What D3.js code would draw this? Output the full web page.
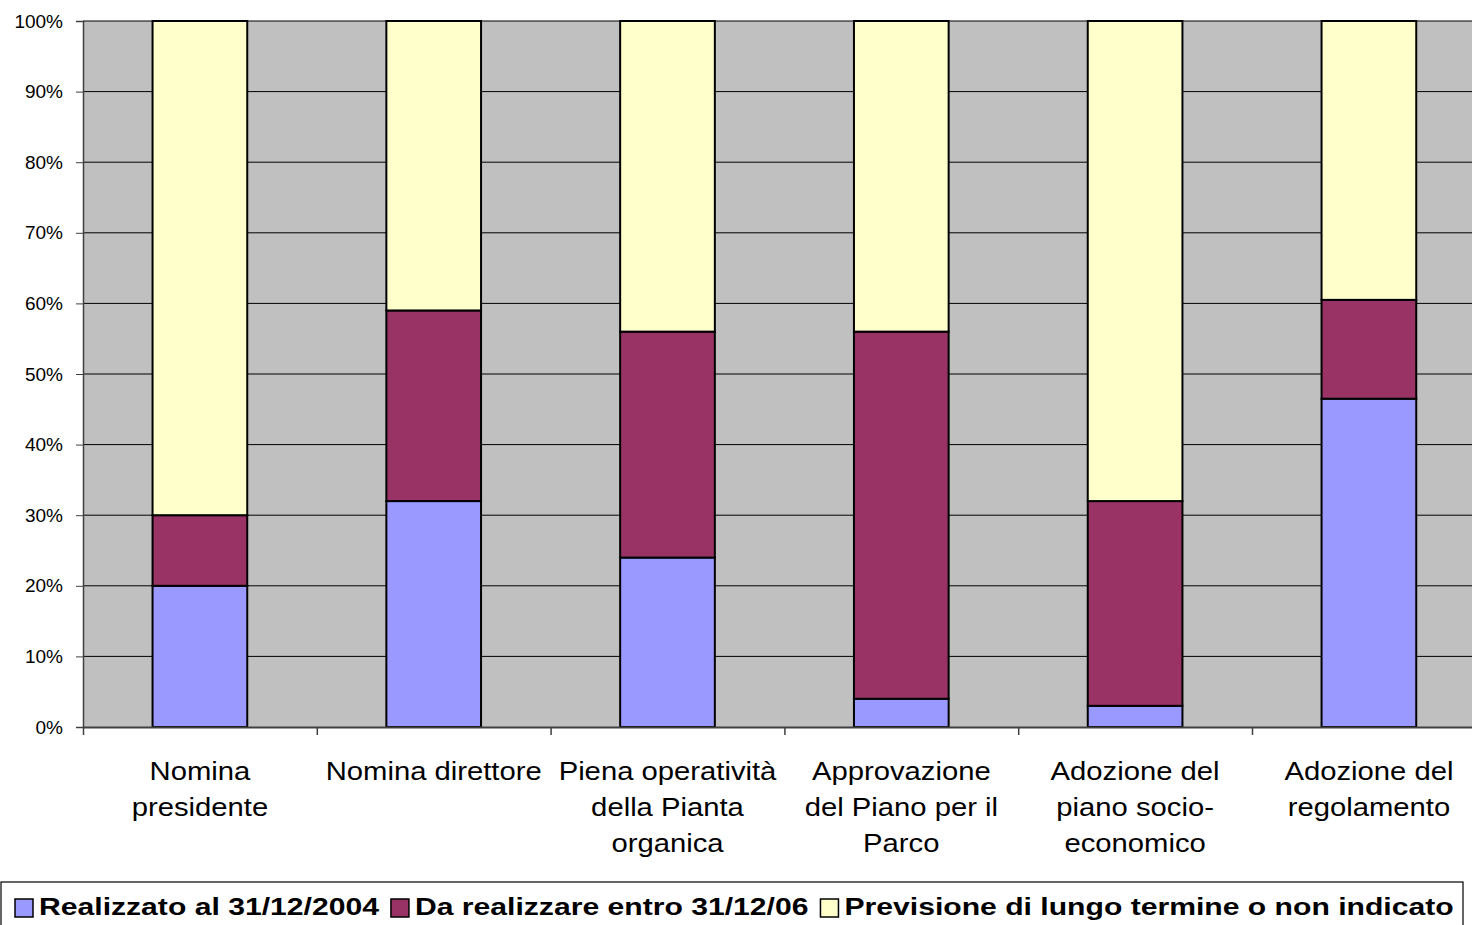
<!DOCTYPE html>
<html>
<head>
<meta charset="utf-8">
<script src="https://cdn.jsdelivr.net/npm/d3@7"></script>
<style>
  body { margin: 0; background: #fff; }
  svg { display: block; font-family: "Liberation Sans", Arial, sans-serif; }
</style>
</head>
<body>
<script>
const categories = ["Nomina presidente", "Nomina direttore", "Piena operatività della Pianta organica",
  "Approvazione del Piano per il Parco", "Adozione del piano socio-economico", "Adozione del regolamento"];
const categoryLines = [
  ["Nomina", "presidente"],
  ["Nomina direttore"],
  ["Piena operatività", "della Pianta", "organica"],
  ["Approvazione", "del Piano per il", "Parco"],
  ["Adozione del", "piano socio-", "economico"],
  ["Adozione del", "regolamento"]
];
const seriesNames = ["Realizzato al 31/12/2004", "Da realizzare entro 31/12/06", "Previsione di lungo termine o non indicato"];
const realizzato = [20, 32, 24, 4, 3, 46.5];
const daRealizzare = [10, 27, 32, 52, 29, 14];
const previsione = [70, 41, 44, 44, 68, 39.5];
const yTicks = [0, 10, 20, 30, 40, 50, 60, 70, 80, 90, 100];

const colors = ["#9999FF", "#993366", "#FFFFCC"];

const w = 1472, h = 925;
const plotLeft = 83, plotTop = 21, plotBottom = 727;
const step = 233.8;
const plotRight = plotLeft + step * categories.length;

const svg = d3.select("body").append("svg").attr("width", w).attr("height", h);

const x = d3.scaleBand().domain(categories).range([plotLeft, plotRight]).padding(0);
const xLin = d3.scaleLinear().domain([0, categories.length]).range([plotLeft, plotRight]);
const y = d3.scaleLinear().domain([0, 100]).range([plotBottom, plotTop]);

// plot background
svg.append("rect")
  .attr("x", plotLeft).attr("y", plotTop)
  .attr("width", plotRight - plotLeft).attr("height", plotBottom - plotTop)
  .attr("fill", "#C0C0C0");

// gridlines
svg.append("g").selectAll("line")
  .data(yTicks.slice(1))
  .enter().append("line")
  .attr("x1", plotLeft).attr("x2", plotRight)
  .attr("y1", d => y(d)).attr("y2", d => y(d))
  .attr("stroke", "#000").attr("stroke-width", 1);

// stacked bars
const table = categories.map((c, i) => ({ cat: c, s0: realizzato[i], s1: daRealizzare[i], s2: previsione[i] }));
const stacked = d3.stack().keys(["s0", "s1", "s2"])(table);
const barW = x.bandwidth() * 0.405;

svg.append("g").selectAll("g")
  .data(stacked)
  .enter().append("g")
  .attr("fill", (d, i) => colors[i])
  .selectAll("rect")
  .data(d => d)
  .enter().append("rect")
  .attr("x", d => x(d.data.cat) + (x.bandwidth() - barW) / 2)
  .attr("width", barW)
  .attr("y", d => y(d[1]))
  .attr("height", d => y(d[0]) - y(d[1]))
  .attr("stroke", "#000")
  .attr("stroke-width", 2);

// y axis
const yAxis = d3.axisLeft(y).tickValues(yTicks).tickFormat(d => d + "%").tickSize(7).tickPadding(13);
const yg = svg.append("g").attr("transform", `translate(${plotLeft},0)`).call(yAxis);
yg.select(".domain").attr("stroke", "#404040").attr("stroke-width", 1.5);
yg.selectAll(".tick line").attr("stroke", "#404040");
yg.selectAll(".tick text").attr("font-size", 19).attr("fill", "#000")
  .attr("font-family", "Liberation Sans, Arial, sans-serif");

// x axis (ticks at category boundaries)
const xAxis = d3.axisBottom(xLin).tickValues(d3.range(categories.length + 1)).tickFormat("").tickSize(8).tickSizeOuter(0);
const xg = svg.append("g").attr("transform", `translate(0,${plotBottom})`).call(xAxis);
xg.select(".domain").attr("stroke", "#404040").attr("stroke-width", 2);
xg.selectAll(".tick line").attr("stroke", "#404040").attr("stroke-width", 1.5);

// category labels
const labelG = svg.append("g");
categoryLines.forEach((lines, i) => {
  const cx = x(categories[i]) + x.bandwidth() / 2;
  lines.forEach((ln, j) => {
    labelG.append("text")
      .attr("transform", `translate(${cx},${plotBottom + 53 + j * 36}) scale(1.17,1)`)
      .attr("text-anchor", "middle")
      .attr("font-size", 25)
      .attr("fill", "#000")
      .text(ln);
  });
});

// legend
const legend = svg.append("g");
legend.append("rect")
  .attr("x", 1).attr("y", 882).attr("width", 1462).attr("height", 70)
  .attr("fill", "#fff").attr("stroke", "#000").attr("stroke-width", 1.2);

let lx = 15;
seriesNames.forEach((name, i) => {
  legend.append("rect")
    .attr("x", lx).attr("y", 899).attr("width", 18).attr("height", 18)
    .attr("fill", colors[i]).attr("stroke", "#000").attr("stroke-width", 1.5);
  const t = legend.append("text")
    .attr("transform", `translate(${lx + 24},915) scale(1.31,1)`)
    .attr("font-size", 23)
    .attr("font-weight", "bold")
    .attr("fill", "#000")
    .text(name);
  const tw = t.node().getComputedTextLength() * 1.31;
  lx = lx + 24 + tw + 12;
});
</script>
</body>
</html>
